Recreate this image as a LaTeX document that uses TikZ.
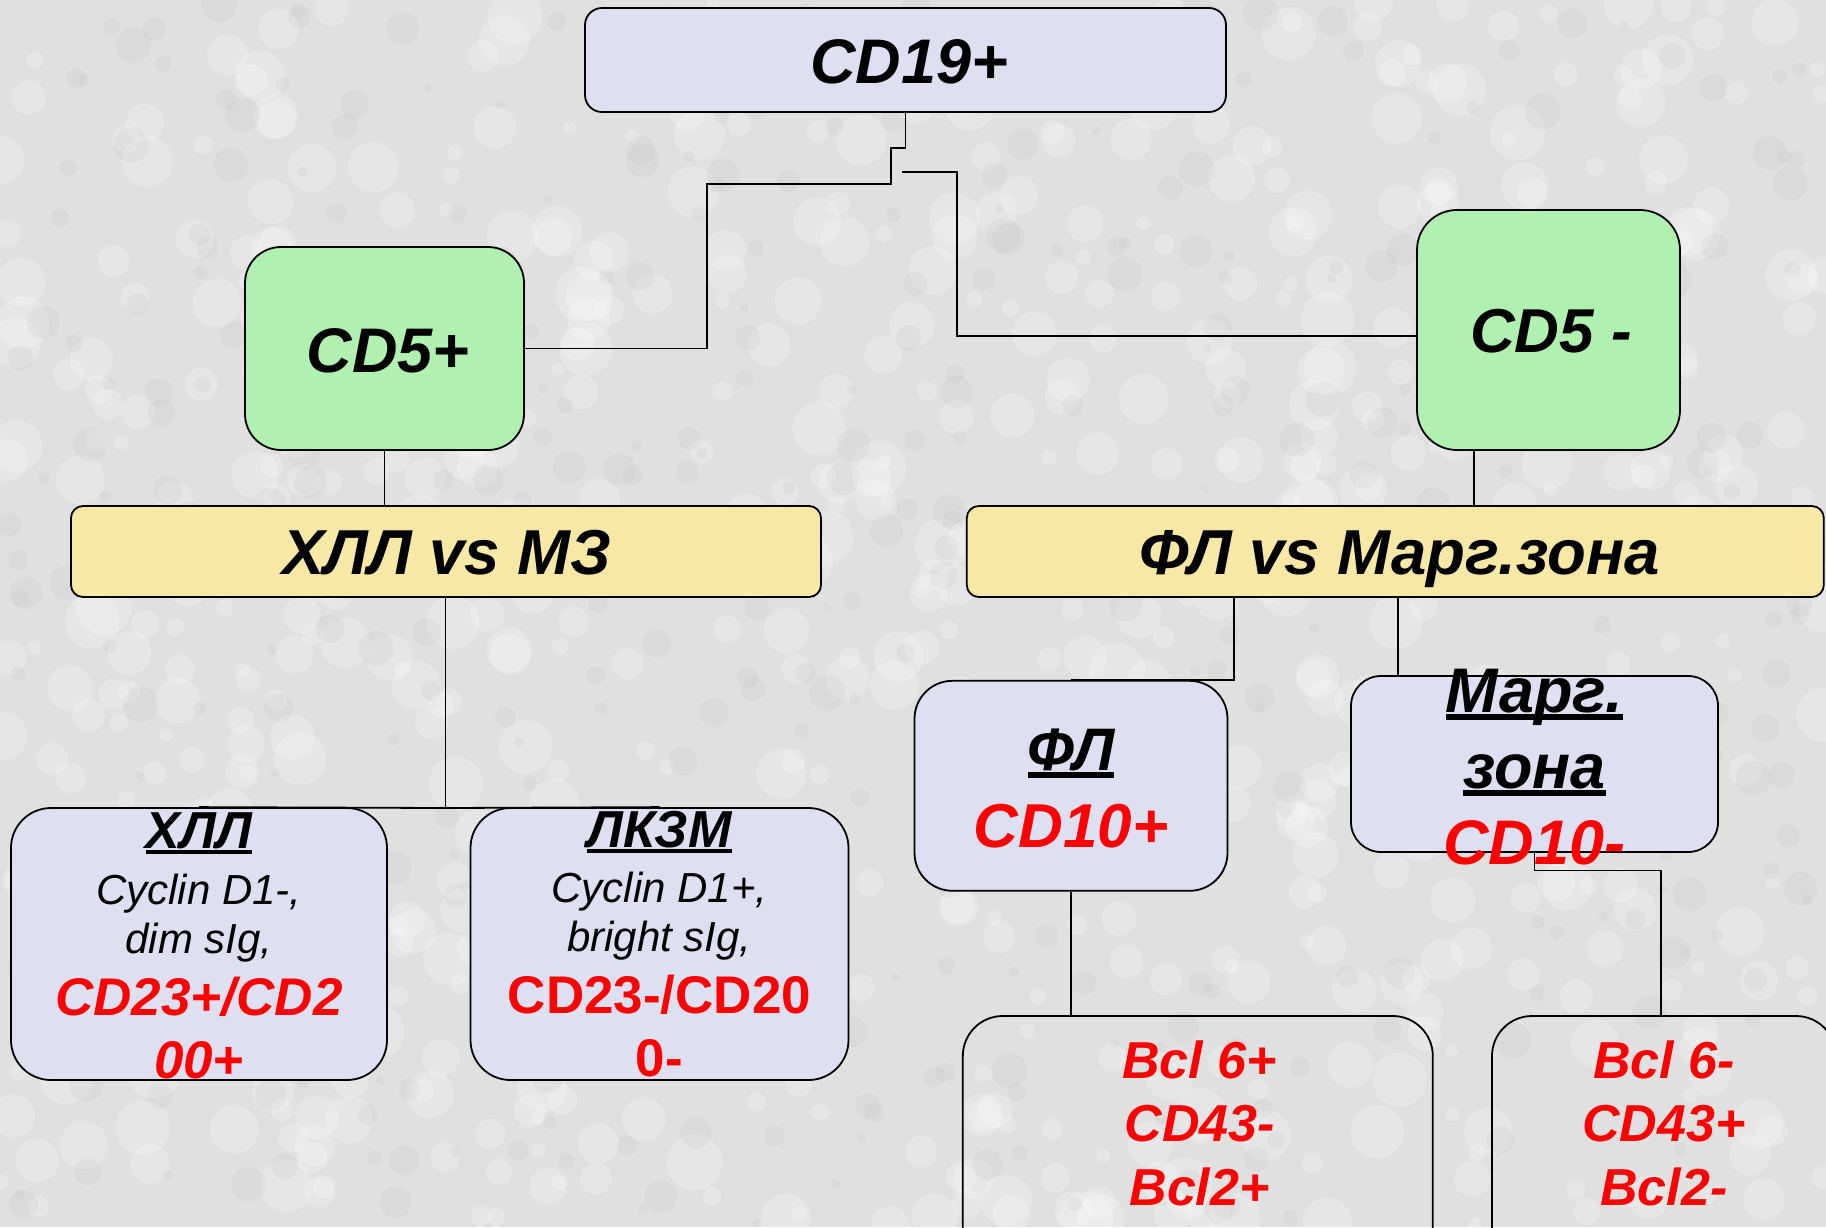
\documentclass[tikz,border=0pt]{standalone}
\usepackage{fontspec}
\setmainfont{Liberation Sans}
\usetikzlibrary{calc}
\definecolor{bgc}{HTML}{E0E0E0}
\definecolor{lav}{HTML}{DFDFF2}
\definecolor{grn}{HTML}{B0F0B0}
\definecolor{ylw}{HTML}{F8E8A6}
\definecolor{rd}{HTML}{FF0000}
\newcommand\myul[1]{\setbox0\hbox{#1}\rlap{\vrule width\wd0 height -0.03em depth 0.12em}\box0}
\tikzset{
  box/.style={draw=black, line width=1.8pt, rounded corners=#1, inner sep=0pt},
  box/.default=20pt,
  conn/.style={draw=black, line width=1.8pt},
  big/.style={anchor=base, inner sep=0pt, font=\fontsize{63.5}{63.5}\selectfont\bfseries\itshape},
  head/.style={anchor=base, inner sep=0pt, font=\fontsize{52}{52}\selectfont\bfseries\itshape},
  small/.style={anchor=base, inner sep=0pt, align=center, font=\fontsize{42}{49}\selectfont\itshape},
  redt/.style={anchor=base, inner sep=0pt, align=center, text=rd, font=\fontsize{53}{63}\selectfont\bfseries\itshape},
  redu/.style={anchor=base, inner sep=0pt, align=center, text=rd, font=\fontsize{53}{63}\selectfont\bfseries},
}
\begin{document}
\begin{tikzpicture}[x=1pt,y=-1pt]
\useasboundingbox (0,0) rectangle (1826,1227);
\begin{scope}
\clip (0,0) rectangle (1826,1227);
\fill[bgc] (0,0) rectangle (1826,1227);
\pgfmathsetseed{7}
\foreach \i in {1,...,700} {
  \pgfmathsetmacro\xx{rnd*1826}
  \pgfmathsetmacro\yy{rnd*1227}
  \pgfmathsetmacro\rr{6+rnd*22}
  \fill[white, opacity=0.22] (\xx,\yy) circle[radius=\rr];
}
\foreach \i in {1,...,400} {
  \pgfmathsetmacro\xx{rnd*1826}
  \pgfmathsetmacro\yy{rnd*1227}
  \pgfmathsetmacro\rr{4+rnd*14}
  \fill[black!30, opacity=0.12] (\xx,\yy) circle[radius=\rr];
}

% boxes
\node[box=17pt, fill=lav, minimum width=641pt, minimum height=104pt] (cd19) at (905.5,60) {};
\node[box=36pt, fill=grn, minimum width=279pt, minimum height=203pt] (cd5p) at (384.5,348.5) {};
\node[box=40pt, fill=grn, minimum width=263pt, minimum height=240pt] (cd5m) at (1548.5,330) {};
\node[box=12pt, fill=ylw, minimum width=750pt, minimum height=91pt] (hvm) at (446,551.5) {};
\node[box=12pt, fill=ylw, minimum width=857pt, minimum height=91pt] (fvm) at (1395.3,551.5) {};
\node[box=40pt, fill=lav, minimum width=376pt, minimum height=272pt] (chll) at (199,944) {};
\node[box=40pt, fill=lav, minimum width=378pt, minimum height=272pt] (lkzm) at (659.5,944) {};
\node[box=38pt, fill=lav, minimum width=313pt, minimum height=210pt] (fl) at (1071,785.8) {};
\node[box=30pt, fill=lav, minimum width=367pt, minimum height=176pt] (marg) at (1534.5,764) {};
\node[box=40pt, minimum width=470pt, minimum height=260pt] (bcla) at (1197.8,1146) {};
\node[box=40pt, minimum width=344pt, minimum height=260pt] (bclb) at (1664,1146) {};

% connectors
\coordinate (ja) at (891,148);
\coordinate (jb) at (707,184);
\draw[conn] (cd19.south) |- (ja) |- (jb) |- (cd5p.east);
\coordinate (jc) at (902,172);
\coordinate (jd) at (957,336);
\draw[conn] (jc) -| (jd) -- ([yshift=-6pt]cd5m.west);
\draw[conn] (cd5p.south) -- (cd5p.south |- hvm.north);
\coordinate (je) at (1474,450);
\draw[conn] (je) -- (je |- fvm.north);
\coordinate (jl) at (445.5,808);
\draw[conn] (hvm.south -| jl) -- (jl);
\draw[conn] (chll.north) -- (jl) -- (lkzm.north);
\coordinate (jf) at (1234,597);
\draw[conn] (jf) |- (fl.north);
\coordinate (jg) at (1398,597);
\draw[conn] (jg) -- (jg |- marg.north);
\coordinate (jh) at (1661,870.5);
\draw[conn] (marg.south) |- (jh) -- (jh |- bclb.north);
\draw[conn] (fl.south) -- (fl.south |- bcla.north);

% texts
\node[big, font=\fontsize{63}{63}\selectfont\bfseries\itshape] (t19) at (909,83) {CD19+};
\node[big, font=\fontsize{63}{63}\selectfont\bfseries\itshape] (t5p) at (388,372) {CD5+};
\node[big, font=\fontsize{62}{62}\selectfont\bfseries\itshape] (t5m) at (1551,352) {CD5 -};
\node[big] (thvm) at (447,574) {ХЛЛ vs МЗ};
\node[big] (tfvm) at (1400,574) {ФЛ vs Марг.зона};

\node[head] (tchll) at (199,848) {\myul{ХЛЛ}};
\node[small] (schll) at (199,953) {Cyclin D1-,\\dim sIg,};
\node[redt] (rchll) at (199,1078) {CD23+/CD2\\00+};

\node[head] (tlkzm) at (659.5,847) {\myul{ЛКЗМ}};
\node[small] (slkzm) at (659.5,951.5) {Cyclin D1+,\\bright sIg,};
\node[redu] (rlkzm) at (659.5,1076) {CD23-/CD20\\0-};

\node[big, font=\fontsize{60}{60}\selectfont\bfseries\itshape] (tfl) at (1071,770.6) {\myul{ФЛ}};
\node[redt, font=\fontsize{62}{62}\selectfont\bfseries\itshape] (rfl) at (1071,847) {CD10+};

\node[big, align=center, font=\fontsize{63}{76}\selectfont\bfseries\itshape] (tmarg) at (1534.5,788) {\myul{Марг.}\\\myul{зона}};
\node[redt, font=\fontsize{63}{63}\selectfont\bfseries\itshape] (rmarg) at (1534.5,864.6) {CD10-};

\node[redt, font=\fontsize{52}{63.5}\selectfont\bfseries\itshape] (rbcla) at (1199.6,1205) {Bcl 6+\\CD43-\\Bcl2+};
\node[redt, font=\fontsize{52}{63.5}\selectfont\bfseries\itshape] (rbclb) at (1664,1205) {Bcl 6-\\CD43+\\Bcl2-};
\end{scope}
\end{tikzpicture}
\end{document}
